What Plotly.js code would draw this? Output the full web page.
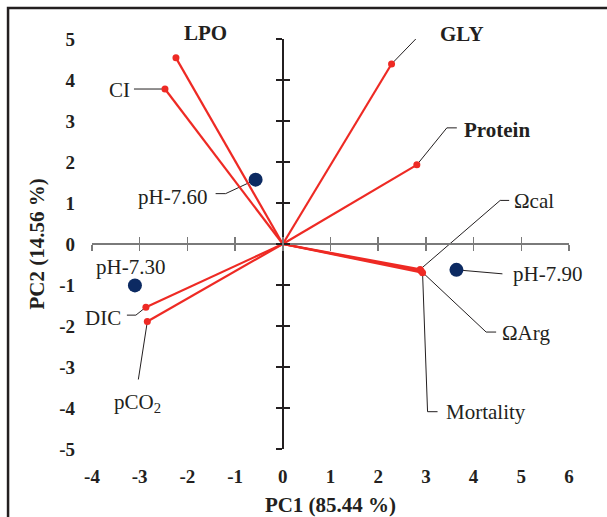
<!DOCTYPE html>
<html><head><meta charset="utf-8">
<script src="https://cdn.plot.ly/plotly-3.0.1.min.js"></script>
<style>html,body{margin:0;padding:0;background:#fff}#chart{width:607px;height:517px}</style>
</head><body><div id="chart"></div>
<script>
// ---- data ----
const varNames = ['LPO', 'CI', 'GLY', 'Protein', 'Ωcal', 'ΩArg', 'Mortality', 'DIC', 'pCO<sub>2</sub>'];
const varPC1 = [-2.24, -2.47, 2.28, 2.81, 2.88, 2.90, 2.93, -2.87, -2.84];
const varPC2 = [4.54, 3.78, 4.39, 1.93, -0.62, -0.66, -0.70, -1.54, -1.89];
const scoreNames = ['pH-7.60', 'pH-7.30', 'pH-7.90'];
const scorePC1 = [-0.57, -3.10, 3.64];
const scorePC2 = [1.57, -1.01, -0.63];
const xTicks = [-4, -3, -2, -1, 0, 1, 2, 3, 4, 5, 6];
const yTicks = [-5, -4, -3, -2, -1, 0, 1, 2, 3, 4, 5];
const xTickText = ['-4', '-3', '-2', '-1', '0', '1', '2', '3', '4', '5', '6'];
const yTickText = ['-5', '-4', '-3', '-2', '-1', '0', '1', '2', '3', '4', '5'];
const xTitle = 'PC1 (85.44 %)';
const yTitle = 'PC2 (14.56 %)';

// ---- label styles (pixel offsets of text centre, leader paths; screen y down) ----
const varLabelStyle = [
  {dx: 30, dy: -25, bold: true, leader: null},
  {dx: -45, dy: 1, bold: false, leader: [[0,0],[-31,0]]},
  {dx: 70, dy: -30, bold: true, leader: [[0,0],[30,-31],[40,-31]]},
  {dx: 80, dy: -35, bold: true, leader: [[0,0],[30,-37],[40,-37]]},
  {dx: 114, dy: -68, bold: false, leader: [[0,0],[80,-69],[89,-69]]},
  {dx: 105, dy: 62, bold: false, leader: [[0,0],[65,61],[75,61]]},
  {dx: 63, dy: 139, bold: false, leader: [[0,0],[5,139],[15,139]]},
  {dx: -43, dy: 11, bold: false, leader: [[0,0],[-10,8],[-19,8]]},
  {dx: -10, dy: 82, bold: false, leader: [[0,0],[-9,58]]}
];
const scoreLabelStyle = [
  {dx: -83, dy: 17, bold: false, leader: [[0,0],[-30,14],[-40,14]]},
  {dx: -4, dy: -18, bold: false, leader: null},
  {dx: 91, dy: 4, bold: false, leader: [[0,0],[46,4]]}
];

const FONT = 'Liberation Serif, Times New Roman, serif';
const RED = '#ee2a24';
const NAVY = '#0c2a62';

// loading vectors from origin
const lx = [], ly = [];
varPC1.forEach((v, i) => { lx.push(0, v, null); ly.push(0, varPC2[i], null); });

const traces = [
  {x: lx, y: ly, mode: 'lines', line: {color: RED, width: 2.2}, hoverinfo: 'skip', showlegend: false, cliponaxis: false},
  {x: varPC1, y: varPC2, mode: 'markers', marker: {color: RED, size: 7}, text: varNames, showlegend: false, cliponaxis: false},
  {x: scorePC1, y: scorePC2, mode: 'markers', marker: {color: NAVY, size: 14}, text: scoreNames, showlegend: false, cliponaxis: false}
];
// invisible anchors so the zero-crossing axes get drawn
[['x2','y'],['x3','y'],['x','y2'],['x','y3']].forEach(p => {
  traces.push({x: [0], y: [0], xaxis: p[0], yaxis: p[1], mode: 'markers',
    marker: {opacity: 0, size: 1}, hoverinfo: 'skip', showlegend: false});
});

const annotations = [];
const shapes = [];
function addLabels(names, xs, ys, styles) {
  names.forEach((n, i) => {
    const s = styles[i];
    annotations.push({
      x: xs[i], y: ys[i], xref: 'x', yref: 'y', showarrow: false,
      text: s.bold ? '<b>' + n + '</b>' : n,
      xshift: s.dx, yshift: -s.dy, xanchor: 'center', yanchor: 'middle',
      font: {family: FONT, size: 21, color: '#231f20'}
    });
    if (s.leader) {
      const path = s.leader.map((p, k) => (k ? 'L' : 'M') + p[0] + ',' + (-p[1])).join(' ');
      shapes.push({
        type: 'path', xref: 'x', yref: 'y', xsizemode: 'pixel', ysizemode: 'pixel',
        xanchor: xs[i], yanchor: ys[i], path: path,
        line: {color: '#231f20', width: 1}, layer: 'below'
      });
    }
  });
}
addLabels(varNames, varPC1, varPC2, varLabelStyle);
addLabels(scoreNames, scorePC1, scorePC2, scoreLabelStyle);

// outer frame
shapes.push({type: 'rect', xref: 'paper', yref: 'paper', x0: -0.176, x1: 1.1, y0: -0.2, y1: 1.0756,
  line: {color: '#231f20', width: 2.5}, fillcolor: 'rgba(0,0,0,0)'});

const xr = [xTicks[0], xTicks[xTicks.length - 1]];
const yr = [yTicks[0], yTicks[yTicks.length - 1]];
const zeroX = (0 - xr[0]) / (xr[1] - xr[0]);
const zeroY = (0 - yr[0]) / (yr[1] - yr[0]);

function zeroAxis(range, ticks, dir, color, pos, over) {
  return {overlaying: over, anchor: 'free', position: pos, range: range, tickvals: ticks,
    showline: true, linecolor: color, linewidth: 2, ticks: dir, ticklen: 6, tickwidth: 1.5, tickcolor: color,
    showticklabels: false, showgrid: false, zeroline: false, fixedrange: true};
}

const layout = {
  width: 607, height: 517,
  margin: {l: 92, r: 38, t: 39, b: 68},
  paper_bgcolor: '#fff', plot_bgcolor: 'rgba(0,0,0,0)',
  font: {family: FONT, color: '#231f20'},
  showlegend: false,
  xaxis: {range: xr, tickvals: xTicks, ticktext: xTickText, showgrid: false, zeroline: false, showline: false, ticks: '',
    ticklabelstandoff: 14, tickfont: {family: FONT, size: 19, weight: 'bold'},
    title: {text: '<b>' + xTitle + '</b>', font: {family: FONT, size: 21}, standoff: 11}},
  yaxis: {range: yr, tickvals: yTicks, ticktext: yTickText, showgrid: false, zeroline: false, showline: false, ticks: '',
    ticklabelstandoff: 16, tickfont: {family: FONT, size: 19, weight: 'bold'},
    title: {text: '<b>' + yTitle + '</b>', font: {family: FONT, size: 21}, standoff: 8}},
  xaxis2: zeroAxis(xr, xTicks, 'outside', '#7a7a7a', zeroY, 'x'),
  xaxis3: zeroAxis(xr, xTicks, 'inside', '#7a7a7a', zeroY, 'x'),
  yaxis2: zeroAxis(yr, yTicks, 'outside', '#231f20', zeroX, 'y'),
  yaxis3: zeroAxis(yr, yTicks, 'inside', '#231f20', zeroX, 'y'),
  annotations: annotations,
  shapes: shapes
};

Plotly.newPlot('chart', traces, layout, {displayModeBar: false, staticPlot: true});
</script></body></html>
